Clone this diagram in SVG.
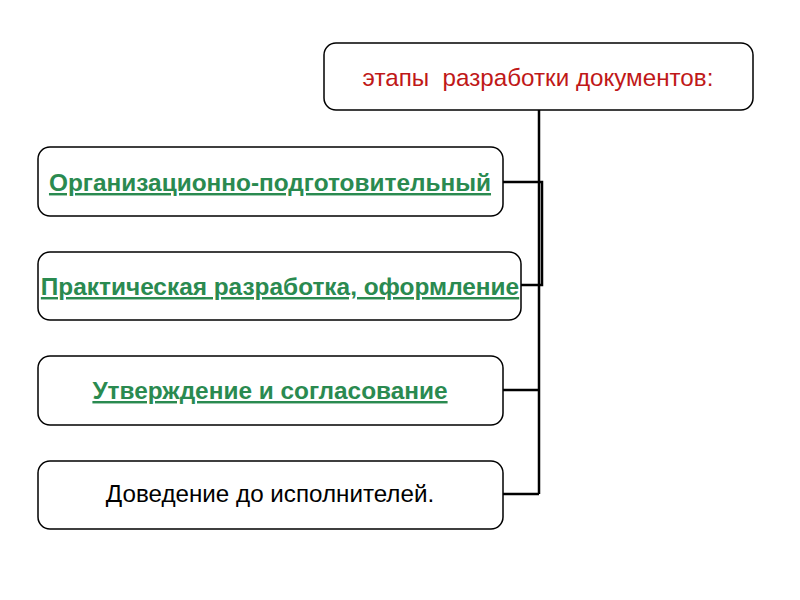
<svg xmlns="http://www.w3.org/2000/svg" width="800" height="600" viewBox="0 0 800 600">
<style>
.box{fill:#fff;stroke:#000;stroke-width:1.5}
.g{font-family:"Liberation Sans",Arial,sans-serif;font-size:24.4px;font-weight:bold;fill:#2a8a50;text-decoration:underline;text-anchor:middle}
.k{font-family:"Liberation Sans",Arial,sans-serif;font-size:24.2px;fill:#000;text-anchor:middle}
.r{font-family:"Liberation Sans",Arial,sans-serif;font-size:24.2px;fill:#c01818;text-anchor:middle;white-space:pre}
.c{fill:none;stroke:#000;stroke-width:2.5}
</style>
<rect width="800" height="600" fill="#fff"/>
<g id="connectors">
<path class="c" d="M539 110 V494"/>
<path class="c" d="M503 182 H542 V285 H520"/>
<path class="c" d="M503 390 H539"/>
<path class="c" d="M503 494 H539"/>
</g>
<g id="top"><rect class="box" x="324" y="43" width="429" height="67" rx="12"/><text class="r" x="538" y="86">этапы  разработки документов:</text></g>
<g id="n1"><rect class="box" x="38" y="147" width="465" height="69" rx="12"/><text class="g" x="270" y="191">Организационно-подготовительный</text></g>
<g id="n2"><rect class="box" x="38" y="252" width="483" height="68" rx="12"/><text class="g" x="280" y="295">Практическая разработка, оформление</text></g>
<g id="n3"><rect class="box" x="38" y="356" width="465" height="69" rx="12"/><text class="g" x="270" y="399">Утверждение и согласование</text></g>
<g id="n4"><rect class="box" x="38" y="461" width="465" height="68" rx="12"/><text class="k" x="270" y="502">Доведение до исполнителей.</text></g>
</svg>
